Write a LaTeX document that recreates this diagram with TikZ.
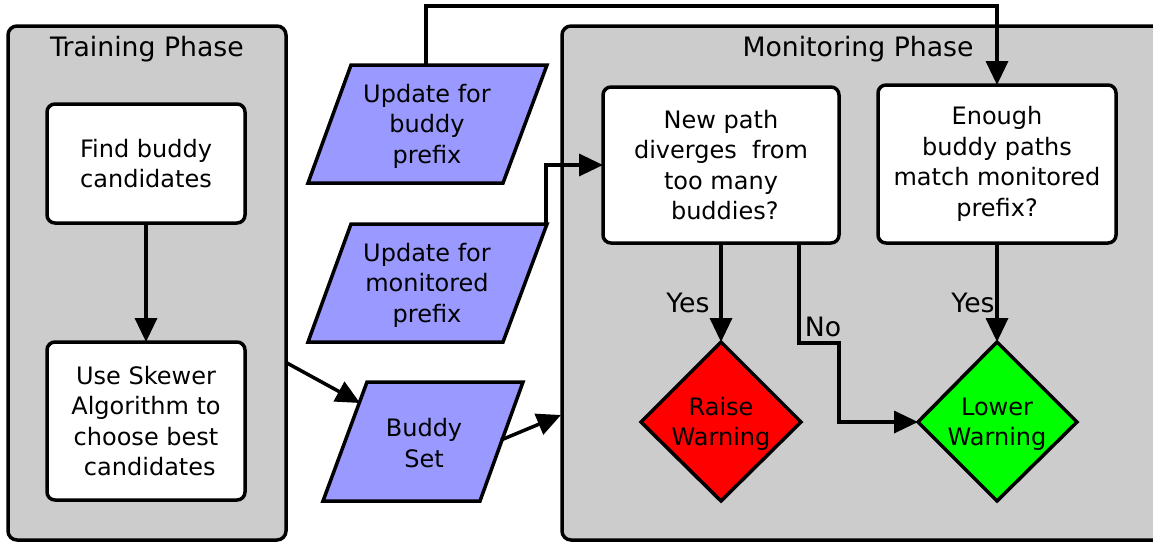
\documentclass[tikz,border=0pt]{standalone}
\usepackage{fontspec}
\setmainfont{DejaVu Sans}
\usetikzlibrary{arrows.meta}
\definecolor{phasegray}{RGB}{204,204,204}
\definecolor{databluefill}{RGB}{153,153,255}
\begin{document}
\begin{tikzpicture}[x=1pt,y=-1pt,
  txt/.style={font=\fontsize{24}{30.5}\selectfont, align=center, inner sep=0pt},
  bigtxt/.style={font=\fontsize{26.7}{32}\selectfont, align=center, inner sep=0pt},
  phase/.style={draw, line width=3.5pt, fill=phasegray, rounded corners=9pt},
  procbox/.style={draw, line width=3.5pt, fill=white, rounded corners=8pt, txt, outer sep=0pt},
  databox/.style={draw, line width=3.5pt, fill=databluefill},
  conn/.style={line width=3.5pt, -{Triangle[length=24pt,width=22pt]}},
]
\clip (0,0) rectangle (1153,542);
\fill[white] (0,0) rectangle (1153,542);
% phases
\draw[phase] (8,26) rectangle (286,540);
\node[bigtxt] (traintitle) at (147,49) {Training Phase};
\draw[phase] (562,26) rectangle (1175,540);
\node[bigtxt] (montitle) at (858,49) {Monitoring Phase};
% training boxes
\node[procbox, minimum width=198pt, minimum height=119pt] (find) at (146,163.5) {Find buddy\\candidates};
\node[procbox, minimum width=198pt, minimum height=158pt] (skewer) at (146,421) {Use Skewer\\Algorithm to\\choose best\\\ candidates};
\draw[conn] (find.south) -- (skewer.north);
% data parallelograms
\draw[databox] (351,65) -- (547,65) -- (503,183) -- (308,183) -- cycle;
\node[txt] (updbuddy) at (427,126) {Update for\\buddy\\prefix};
\draw[databox] (351,224) -- (547,224) -- (503,342) -- (308,342) -- cycle;
\node[txt] (updmon) at (427,285) {Update for\\monitored\\prefix};
\draw[databox] (367,382) -- (523,382) -- (480,501) -- (323,501) -- cycle;
\node[txt] (buddyset) at (424,443) {Buddy\\Set};
\coordinate (updbuddytop) at (426,65);
\coordinate (updmoncorner) at (546,224);
\coordinate (skewerout) at (287,363);
\coordinate (bsin) at (360,403);
\coordinate (bsout) at (501,440);
\coordinate (monin) at (561,415);
% monitoring boxes
\node[procbox, minimum width=236pt, minimum height=156pt] (newpath) at (721,165) {New path\\diverges \ from\\too many\\\ buddies?};
\node[procbox, minimum width=238pt, minimum height=158pt] (enough) at (997,164) {Enough\\buddy paths\\match monitored\\prefix?};
% diamonds
\draw[line width=3.5pt, fill=red] (721,342) -- (801,422) -- (721,501) -- (641,422) -- cycle;
\node[txt] (raise) at (721,424) {Raise\\Warning};
\draw[line width=3.5pt, fill=green] (997,342) -- (1077,422) -- (997,501) -- (918,422) -- cycle;
\node[txt] (lower) at (997,424) {Lower\\Warning};
\coordinate (raisetop) at (721,342);
\coordinate (lowertop) at (997,342);
\coordinate (lowerleft) at (918,422);
% connectors
\draw[conn] (skewerout) -- (bsin);
\draw[conn] (bsout) -- (monin);
\draw[conn] (updbuddytop) -- (426,6) -- (997,6) -- (enough.north);
\draw[conn] (updmoncorner) -- (546,165) -- (newpath.west);
\draw[conn] (newpath.south) -- (raisetop);
\draw[conn] (newpath.south -| 799,0) -- (799,343) -- (839,343) -- (839,422) -- (lowerleft);
\draw[conn] (enough.south) -- (lowertop);
\node[bigtxt] (yes1) at (688,303) {Yes};
\node[bigtxt] (no1) at (823,327) {No};
\node[bigtxt] (yes2) at (973,303) {Yes};
\end{tikzpicture}
\end{document}
